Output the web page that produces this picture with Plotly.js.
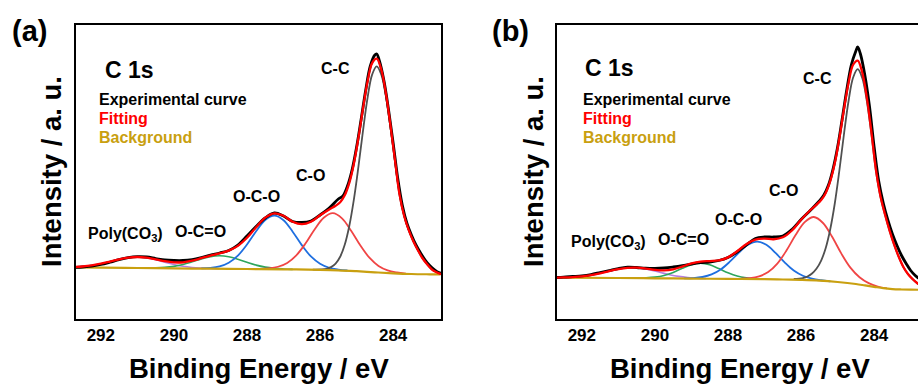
<!DOCTYPE html>
<html>
<head>
<meta charset="utf-8">
<script src="https://cdn.plot.ly/plotly-3.0.1.min.js"></script>
<style>
html, body { margin:0; padding:0; overflow:hidden; width:918px; height:385px; background:#fff; }
#chart { width:924px; height:385px; }
</style>
</head>
<body>
<div id="chart"></div>
<script>
// ---------- Panel (a) ----------
const bgA_E = [292.7, 292, 291, 290, 289, 288, 287, 286, 285.5, 285, 284.5, 284, 283.5, 283, 282.7];
const bgA_I = [51.5, 51.3, 51.0, 50.6, 50.3, 50.0, 49.7, 49.2, 48.7, 47.8, 46.7, 45.7, 45.0, 44.7, 44.6];

const polyA_E = [292.75, 292.5, 292.25, 292.0, 291.75, 291.5, 291.25, 291.0, 290.75, 290.5, 290.25, 290.0, 289.75, 289.5, 289.25, 289.0, 288.75];
const polyA_I = [52.0, 52.5, 53.55, 55.3, 57.4, 59.65, 61.4, 62.0, 61.2, 59.3, 56.9, 54.6, 52.7, 51.55, 50.9, 50.5, 50.26];

const ocoDblA_E = [290.75, 290.5, 290.25, 290.0, 289.75, 289.5, 289.25, 289.0, 288.75, 288.5, 288.25, 288.0, 287.75, 287.5, 287.25, 287.0, 286.75];
const ocoDblA_I = [51.0, 51.15, 51.6, 52.65, 54.5, 57.15, 60.1, 62.4, 63.2, 62.25, 59.8, 56.7, 53.9, 51.9, 50.7, 50.05, 49.6];

const ocoA_E = [289.25, 289.0, 288.75, 288.5, 288.25, 288.0, 287.75, 287.5, 287.25, 287.0, 286.75, 286.5, 286.25, 286.0, 285.75, 285.5, 285.25];
const ocoA_I = [50.6, 51.05, 52.55, 56.25, 63.4, 74.5, 87.7, 98.95, 103.3, 98.8, 87.3, 73.9, 62.6, 55.3, 51.25, 49.45, 48.5];

const coA_E = [287.65, 287.4, 287.15, 286.9, 286.65, 286.4, 286.15, 285.9, 285.65, 285.4, 285.15, 284.9, 284.65, 284.4, 284.15, 283.9, 283.65];
const coA_I = [50.1, 50.65, 52.25, 56.1, 63.7, 75.45, 89.55, 101.3, 105.8, 100.7, 88.3, 73.7, 61.3, 53.1, 48.7, 46.6, 45.4];

const ccA_E = [286.2, 285.95, 285.825, 285.7, 285.575, 285.45, 285.325, 285.2, 285.075, 284.95, 284.825, 284.7, 284.575, 284.45,
               284.325, 284.2, 284.075, 283.95, 283.825, 283.7, 283.575, 283.45, 283.325, 283.2, 283.075, 282.95, 282.825, 282.7];
const ccA_I = [49.36, 49.52, 50.19, 51.85, 55.4, 62.25, 74.2, 93.0, 119.35, 152.3, 188.1, 221.1, 244.4, 252.6,
               244.5, 223, 192, 158, 124, 103, 89, 78, 69, 61, 55, 50, 47, 45.2];

const fitA_E = [292.75, 292.5, 292.25, 292.0, 291.75, 291.5, 291.25, 291.0, 290.75, 290.5, 290.25, 290.0, 289.75, 289.5, 289.25,
                289.0, 288.75, 288.5, 288.25, 288.0, 287.75, 287.5, 287.25, 287.0, 286.75, 286.5, 286.25, 286.0, 285.75,
                285.575, 285.45, 285.325, 285.2, 285.075, 284.95, 284.825, 284.7, 284.575, 284.45, 284.325, 284.2, 284.075,
                283.95, 283.825, 283.7, 283.575, 283.45, 283.325, 283.2, 283.075, 282.95, 282.825, 282.7, 282.6];
const fitA_I = [52.0, 52.5, 53.55, 55.3, 57.4, 59.65, 61.4, 62.0, 61.3, 59.65, 57.8, 56.65, 56.7, 58.3, 60.8,
                63.35, 65.6, 68.35, 73.1, 81.2, 91.8, 101.4, 105.7, 103.25, 97.2, 94.8, 97.2, 103.75, 109.55,
                113.2, 116.75, 123.7, 136.15, 155.35, 181.2, 210.3, 237.4, 255.9, 260.3, 249.5, 226, 194,
                159, 124.6, 103.3, 89.1, 78, 69, 61, 55, 50, 47, 45.2, 44.8];

const expA_E = [292.7, 292.5, 292.25, 292.0, 291.75, 291.5, 291.25, 291.0, 290.75, 290.5, 290.25, 290.0, 289.75, 289.5, 289.25,
                289.0, 288.75, 288.5, 288.25, 288.0, 287.75, 287.5, 287.25, 287.0, 286.75, 286.5, 286.25, 286.0, 285.75,
                285.5, 285.375, 285.25, 285.125, 285.0, 284.875, 284.75, 284.625, 284.5, 284.45, 284.375, 284.25, 284.125,
                284.0, 283.875, 283.75, 283.625, 283.5, 283.375, 283.25, 283.125, 283.0, 282.875, 282.75, 282.6];
const expA_I = [51.5, 52.0, 52.8, 54.5, 56.8, 59.3, 61.3, 62.3, 62.0, 60.5, 59.0, 58.5, 58.5, 59.5, 61.5,
                64.0, 66.0, 68.5, 74.0, 83.0, 92.5, 101.0, 106.0, 103.0, 97.5, 96.5, 98.0, 104.0, 111.0,
                120.0, 123.0, 133.0, 149.0, 172.0, 200.0, 229.0, 253.0, 264.0, 265.0, 258.0, 238.0, 209.0,
                176.0, 141.0, 114.0, 96.0, 84.0, 74.0, 66.0, 59.0, 53.5, 49.5, 46.5, 45.0];

// ---------- Panel (b) ----------
const bgB_E = [292.7, 291, 290, 289, 288, 287, 286.5, 286, 285.5, 285, 284.5, 284.25, 284, 283.75, 283.5, 283.25, 283, 282.7];
const bgB_I = [41.3, 41.0, 40.7, 40.4, 40.1, 39.8, 39.5, 39.1, 38.4, 37.0, 35.0, 33.6, 32.2, 30.8, 29.9, 29.5, 29.3, 29.2];

const polyB_E = [292.85, 292.6, 292.35, 292.1, 291.85, 291.6, 291.35, 291.1, 290.85, 290.6, 290.35, 290.1, 289.85, 289.6, 289.35, 289.1, 288.85, 288.6];
const polyB_I = [41.36, 41.48, 41.71, 42.26, 43.28, 44.88, 46.96, 49.14, 50.8, 51.35, 50.65, 48.84, 46.56, 44.33, 42.63, 41.51, 40.81, 40.48];

const ocoDblB_E = [290.5, 290.25, 290.0, 289.75, 289.5, 289.25, 289.0, 288.75, 288.5, 288.25, 288.0, 287.75, 287.5, 287.25, 287.0];
const ocoDblB_I = [40.94, 41.17, 41.88, 43.56, 46.62, 50.71, 54.4, 55.8, 54.25, 50.41, 46.22, 42.96, 41.13, 40.22, 39.89];

const ocoB_E = [289.2, 288.95, 288.7, 288.45, 288.2, 287.95, 287.7, 287.45, 287.2, 286.95, 286.7, 286.45, 286.2, 285.95, 285.7, 285.45, 285.2];
const ocoB_I = [40.6, 40.9, 42.0, 44.55, 49.45, 57.3, 66.5, 74.3, 77.35, 74.2, 66.1, 56.65, 48.5, 43.3, 40.35, 38.75, 37.7];

const coB_E = [287.65, 287.4, 287.15, 286.9, 286.65, 286.4, 286.15, 285.9, 285.65, 285.4, 285.15, 284.9, 284.65, 284.4, 284.15, 283.9, 283.65];
const coB_I = [40.25, 40.8, 42.65, 46.95, 55.4, 68.45, 83.95, 96.85, 102.0, 96.0, 82.2, 65.6, 51.4, 41.8, 35.9, 32.5, 30.65];

const ccB_E = [286.2, 285.95, 285.825, 285.7, 285.575, 285.45, 285.325, 285.2, 285.075, 284.95, 284.825, 284.7, 284.575, 284.45,
               284.325, 284.2, 284.075, 283.95, 283.825, 283.7, 283.575, 283.45, 283.325, 283.2, 283.075, 282.95, 282.825, 282.7];
const ccB_I = [40.0, 41.0, 42.5, 45.5, 50.5, 58.5, 71, 90, 116, 149, 185, 218, 241.5, 249.8,
               241, 218, 185, 148, 122, 104, 88, 74, 62, 52, 45, 40, 36, 33];

const fitB_E = fitA_E.slice();
const fitB_I = [41.4, 41.55, 41.9, 42.6, 43.9, 45.7, 47.9, 49.9, 51.2, 51.35, 50.45, 49.15, 48.6, 49.7, 52.45,
                55.6, 57.45, 57.95, 58.55, 61.65, 67.7, 74.8, 79.45, 80.45, 79.75, 81.7, 88.5, 99.2, 108.8,
                114.4, 119.0, 126.1, 138.05, 156.2, 181.1, 209.7, 236.1, 254.2, 258.4, 246.5, 221.4, 187.0,
                149.1, 122.6, 104.3, 88.15, 74.1, 62.0, 52.0, 45.0, 40.0, 36.0, 33.0, 32.0];

const expB_E = expA_E.slice();
const expB_I = [41.5, 41.8, 42.5, 43.2, 44.5, 46.5, 48.5, 50.5, 51.8, 51.5, 50.8, 50.6, 51.0, 52.0, 53.3,
                55.0, 56.3, 57.0, 58.5, 61.5, 67.0, 74.0, 80.5, 82.0, 82.0, 83.0, 89.5, 99.5, 108.5,
                118.0, 124.0, 134.0, 150.0, 172.0, 200.0, 229.0, 254.0, 268.0, 272.0, 265.0, 243.0, 212.0,
                172.0, 138.0, 116.0, 99.0, 85.0, 73.5, 63.5, 55.5, 48.5, 43.5, 40.0, 38.0];

const xTicks = [292, 290, 288, 286, 284];
const xTickText = ['292', '290', '288', '286', '284'];

// ---------- Styles ----------
const FONT = 'Liberation Sans, Arial, Helvetica, sans-serif';
const C_EXP = '#000000', C_FIT = '#ff0000', C_BG = '#c9a010';
const C_CC = '#505050', C_CO = '#f04545', C_OCO = '#1f6fe0', C_OCDO = '#2ea65c', C_POLY = '#b57fe0';

function line(xs, ys, color, width, ax) {
  return { x: xs, y: ys, type: 'scatter', mode: 'lines', xaxis: ax.x, yaxis: ax.y,
           line: { color: color, width: width, shape: 'spline', smoothing: 1 }, hoverinfo: 'skip', showlegend: false };
}
const AX1 = { x: 'x', y: 'y' }, AX2 = { x: 'x2', y: 'y2' };

const data = [
  line(polyA_E, polyA_I, C_POLY, 1.6, AX1),
  line(ocoDblA_E, ocoDblA_I, C_OCDO, 1.6, AX1),
  line(ocoA_E, ocoA_I, C_OCO, 1.8, AX1),
  line(coA_E, coA_I, C_CO, 1.8, AX1),
  line(ccA_E, ccA_I, C_CC, 1.8, AX1),
  line(bgA_E, bgA_I, C_BG, 2.2, AX1),
  line(expA_E, expA_I, C_EXP, 2.8, AX1),
  line(fitA_E, fitA_I, C_FIT, 2.3, AX1),

  line(polyB_E, polyB_I, C_POLY, 1.6, AX2),
  line(ocoDblB_E, ocoDblB_I, C_OCDO, 1.6, AX2),
  line(ocoB_E, ocoB_I, C_OCO, 1.8, AX2),
  line(coB_E, coB_I, C_CO, 1.8, AX2),
  line(ccB_E, ccB_I, C_CC, 1.8, AX2),
  line(bgB_E, bgB_I, C_BG, 2.2, AX2),
  line(expB_E, expB_I, C_EXP, 2.8, AX2),
  line(fitB_E, fitB_I, C_FIT, 2.3, AX2)
];

const W = 924, H = 385;
function xAxis(dom, anchor) {
  return { domain: dom, anchor: anchor, range: [292.68, 282.69], tickmode: 'array', tickvals: xTicks, ticktext: xTickText,
           ticks: '', showgrid: false, zeroline: false, showline: true, mirror: true, linecolor: '#000', linewidth: 2,
           tickfont: { family: FONT, size: 17, color: '#000', weight: 'bold' }, fixedrange: true };
}
function yAxis(anchor) {
  return { domain: [0.1714, 0.9338], anchor: anchor, range: [0, 293.5], showticklabels: false, ticks: '',
           showgrid: false, zeroline: false, showline: true, mirror: true, linecolor: '#000', linewidth: 2, fixedrange: true };
}

function txt(text, x, y, opts) {
  return Object.assign({ text: text, x: x, y: y, showarrow: false, xanchor: 'center', yanchor: 'middle',
                         font: { family: FONT, size: 16, color: '#000', weight: 'bold' } }, opts || {});
}
function bold(size, color) { return { family: FONT, size: size, color: color || '#000', weight: 'bold' }; }

const annotations = [
  // panel letters
  txt('(a)', 30 / W, 1 - 31.5 / H, { xref: 'paper', yref: 'paper', font: bold(29) }),
  txt('(b)', 510.7 / W, 1 - 31.5 / H, { xref: 'paper', yref: 'paper', font: bold(29) }),
  // axis titles
  txt('Binding Energy / eV', 258.5 / W, 1 - 368 / H, { xref: 'paper', yref: 'paper', font: bold(27.5) }),
  txt('Binding Energy / eV', 740 / W, 1 - 368 / H, { xref: 'paper', yref: 'paper', font: bold(27.5) }),
  txt('Intensity / a. u.', 52 / W, 1 - 172 / H, { xref: 'paper', yref: 'paper', textangle: -90, font: bold(27.5) }),
  txt('Intensity / a. u.', 534 / W, 1 - 172 / H, { xref: 'paper', yref: 'paper', textangle: -90, font: bold(27.5) }),

  // panel (a) texts
  txt('C 1s', 291.95, 249, { xref: 'x', yref: 'y', xanchor: 'left', font: bold(23) }),
  txt('Experimental curve', 292.1, 219.5, { xref: 'x', yref: 'y', xanchor: 'left', font: bold(16) }),
  txt('Fitting', 292.1, 200, { xref: 'x', yref: 'y', xanchor: 'left', font: bold(16, C_FIT) }),
  txt('Background', 292.1, 181, { xref: 'x', yref: 'y', xanchor: 'left', font: bold(16, C_BG) }),
  txt('C-C', 285.59, 250, { xref: 'x', yref: 'y' }),
  txt('C-O', 286.27, 143, { xref: 'x', yref: 'y' }),
  txt('O-C-O', 287.75, 122.5, { xref: 'x', yref: 'y' }),
  txt('O-C=O', 289.26, 88, { xref: 'x', yref: 'y' }),
  txt('Poly(CO<sub>3</sub>)', 291.32, 85, { xref: 'x', yref: 'y' }),

  // panel (b) texts
  txt('C 1s', 291.97, 250.5, { xref: 'x2', yref: 'y2', xanchor: 'left', font: bold(23) }),
  txt('Experimental curve', 292.01, 219.5, { xref: 'x2', yref: 'y2', xanchor: 'left', font: bold(16) }),
  txt('Fitting', 292.01, 200, { xref: 'x2', yref: 'y2', xanchor: 'left', font: bold(16, C_FIT) }),
  txt('Background', 292.01, 181, { xref: 'x2', yref: 'y2', xanchor: 'left', font: bold(16, C_BG) }),
  txt('C-C', 285.54, 240, { xref: 'x2', yref: 'y2' }),
  txt('C-O', 286.48, 128, { xref: 'x2', yref: 'y2' }),
  txt('O-C-O', 287.71, 99.5, { xref: 'x2', yref: 'y2' }),
  txt('O-C=O', 289.21, 80, { xref: 'x2', yref: 'y2' }),
  txt('Poly(CO<sub>3</sub>)', 291.26, 77, { xref: 'x2', yref: 'y2' })
];

const layout = {
  width: W, height: H,
  margin: { l: 0, r: 0, t: 0, b: 0, pad: 0 },
  paper_bgcolor: '#fff', plot_bgcolor: '#fff',
  showlegend: false,
  xaxis: xAxis([76 / W, 441 / W], 'y'),
  yaxis: yAxis('x'),
  xaxis2: xAxis([557 / W, 922 / W], 'y2'),
  yaxis2: yAxis('x2'),
  annotations: annotations,
  font: { family: FONT }
};

Plotly.newPlot('chart', data, layout, { displayModeBar: false, staticPlot: true });
</script>
</body>
</html>
